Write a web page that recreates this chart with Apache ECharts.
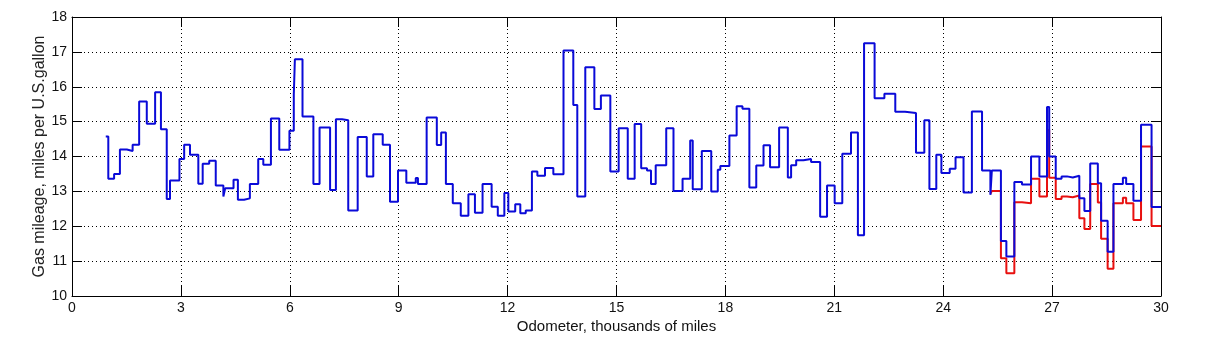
<!DOCTYPE html>
<html>
<head>
<meta charset="utf-8">
<script src="https://cdn.jsdelivr.net/npm/echarts@6/dist/echarts.min.js"></script>
<style>
  html, body { margin: 0; padding: 0; background: #fff; }
  #main { width: 1208px; height: 340px; }
</style>
</head>
<body>
<div id="main"></div>
<script>
// odometer (thousands of miles) at each fill-up, and the mileage of the leg that starts there
const odometer = [
  0.93, 1.00, 1.16, 1.32, 1.51, 1.67, 1.85, 2.06, 2.29, 2.45,
  2.61, 2.70, 2.96, 3.09, 3.25, 3.48, 3.60, 3.78, 3.96, 4.17,
  4.22, 4.45, 4.57, 4.74, 4.90, 5.13, 5.27, 5.48, 5.71, 5.99,
  6.11, 6.14, 6.35, 6.65, 6.82, 7.11, 7.27, 7.44, 7.61, 7.87,
  8.12, 8.30, 8.56, 8.76, 8.98, 9.21, 9.47, 9.53, 9.77, 10.05,
  10.17, 10.30, 10.49, 10.71, 10.92, 11.10, 11.31, 11.56, 11.73, 11.91,
  12.02, 12.21, 12.35, 12.50, 12.67, 12.82, 13.03, 13.26, 13.54, 13.81,
  13.92, 14.14, 14.39, 14.57, 14.83, 15.06, 15.31, 15.50, 15.68, 15.84,
  15.95, 16.08, 16.37, 16.57, 16.82, 17.03, 17.10, 17.35, 17.61, 17.79,
  17.86, 18.11, 18.31, 18.47, 18.66, 18.85, 19.05, 19.23, 19.48, 19.72,
  19.81, 19.95, 20.15, 20.36, 20.61, 20.80, 21.01, 21.22, 21.46, 21.65,
  21.82, 22.11, 22.38, 22.68, 22.95, 23.25, 23.48, 23.62, 23.81, 23.95,
  24.18, 24.34, 24.56, 24.79, 25.07, 25.30, 25.34, 25.59, 25.74, 25.96,
  26.17, 26.42, 26.65, 26.86, 26.92, 27.10, 27.26, 27.41, 27.57, 27.75,
  27.89, 28.05, 28.26, 28.35, 28.53, 28.69, 28.95, 29.04, 29.24, 29.45,
  29.74, 30.00
];
const mpg = [
  14.57, 13.36, 13.50, 14.20, 14.16, 14.34, 15.58, 14.94, 15.84, 14.78,
  12.78, 13.31, 13.93, 14.34, 14.05, 13.22, 13.79, 13.88, 13.17, 12.85,
  13.09, 13.33, 12.76, 12.80, 13.21, 13.93, 13.76, 15.09, 14.19, 14.74,
  15.77, 16.79, 15.15, 13.21, 14.83, 13.04, 15.07, 15.04, 12.45, 14.56,
  13.43, 14.64, 14.34, 12.70, 13.60, 13.25, 13.38, 13.21, 15.12, 14.33,
  14.69, 13.21, 12.66, 12.30, 12.92, 12.39, 13.21, 12.56, 12.30, 12.95,
  12.42, 12.63, 12.37, 12.45, 13.57, 13.45, 13.67, 13.49, 17.04, 15.48,
  12.85, 16.56, 15.36, 15.75, 13.57, 14.81, 13.36, 14.93, 13.66, 13.60,
  13.21, 13.75, 14.81, 13.01, 13.36, 14.46, 13.06, 14.16, 13.00, 13.62,
  13.73, 14.60, 15.44, 15.37, 13.11, 13.74, 14.32, 13.69, 14.83, 13.40,
  13.75, 13.89, 13.93, 13.84, 12.27, 13.17, 12.66, 14.08, 14.69, 11.74,
  17.25, 15.67, 15.80, 15.28, 15.25, 14.11, 15.04, 13.07, 14.05, 13.53,
  13.65, 13.98, 12.97, 15.29, 13.60, 12.90, 13.60, 11.58, 11.13, 13.27,
  13.20, 14.00, 13.43, 15.42, 14.00, 13.36, 13.43, 13.40, 13.45, 12.80,
  12.44, 13.80, 13.23, 12.16, 11.27, 13.21, 13.39, 13.21, 12.73, 14.91,
  12.55, 12.55
];
// red trace, only where it separates from the blue one
const odometerRed = [
  25.30, 25.34, 25.59, 25.74, 25.96, 26.17, 26.42, 26.65, 26.86, 26.92,
  27.10, 27.26, 27.41, 27.57, 27.75, 27.89, 28.05, 28.26, 28.35, 28.53,
  28.69, 28.95, 29.04, 29.24, 29.45, 29.74, 30.00
];
const mpgRed = [
  12.93, 13.01, 11.08, 10.65, 12.69, 12.66, 13.36, 12.85, 14.75, 13.39,
  12.78, 12.85, 12.83, 12.88, 12.23, 11.92, 13.21, 12.68, 11.64, 10.78,
  12.66, 12.82, 12.66, 12.18, 14.29, 12.01, 12.01
];
const xTicks = [0, 3, 6, 9, 12, 15, 18, 21, 24, 27, 30];
const yTicks = [10, 11, 12, 13, 14, 15, 16, 17, 18];

const font = '"Liberation Sans", Arial, sans-serif';
const pairs = (xs, ys) => xs.map((x, i) => [x, ys[i]]);

const frameTick = { inside: true, length: 10, lineStyle: { color: '#000' } };
const frameLine = { show: true, onZero: false, lineStyle: { color: '#000', width: 1 } };
const dotted = { show: true, lineStyle: { color: '#000', width: 1, type: [1, 3] } };

let myChart = echarts.init(document.getElementById('main'));
myChart.setOption({
  animation: false,
  backgroundColor: '#fff',
  grid: { left: 72, right: 47, top: 17, bottom: 44 },
  xAxis: [
    {
      type: 'value', position: 'bottom',
      min: xTicks[0], max: xTicks[xTicks.length - 1], interval: xTicks[1] - xTicks[0],
      name: 'Odometer, thousands of miles', nameLocation: 'middle', nameGap: 23,
      nameMoveOverlap: false,
      nameTextStyle: { color: '#111', fontSize: 15, fontFamily: font },
      axisLine: frameLine, axisTick: frameTick, splitLine: dotted,
      axisLabel: { margin: 5, color: '#111', fontSize: 14, fontFamily: font }
    },
    {
      type: 'value', position: 'top',
      min: xTicks[0], max: xTicks[xTicks.length - 1], interval: xTicks[1] - xTicks[0],
      axisLine: frameLine, axisTick: frameTick,
      axisLabel: { show: false }, splitLine: { show: false }
    }
  ],
  yAxis: [
    {
      type: 'value', position: 'left',
      min: yTicks[0], max: yTicks[yTicks.length - 1], interval: yTicks[1] - yTicks[0],
      name: 'Gas mileage, miles per U.S.gallon', nameLocation: 'middle', nameGap: 24,
      nameMoveOverlap: false,
      nameTextStyle: { color: '#222', fontSize: 16, fontFamily: font },
      axisLine: frameLine, axisTick: frameTick, splitLine: dotted,
      axisLabel: { margin: 5, color: '#111', fontSize: 14, fontFamily: font }
    },
    {
      type: 'value', position: 'right',
      min: yTicks[0], max: yTicks[yTicks.length - 1], interval: yTicks[1] - yTicks[0],
      axisLine: frameLine, axisTick: frameTick,
      axisLabel: { show: false }, splitLine: { show: false }
    }
  ],
  series: [
    {
      type: 'line', step: 'end', showSymbol: false, silent: true,
      data: pairs(odometerRed, mpgRed),
      lineStyle: { color: '#e8100f', width: 2 }
    },
    {
      type: 'line', step: 'end', showSymbol: false, silent: true,
      data: pairs(odometer, mpg),
      lineStyle: { color: '#0a0ad8', width: 2 }
    }
  ]
});
</script>
</body>
</html>
